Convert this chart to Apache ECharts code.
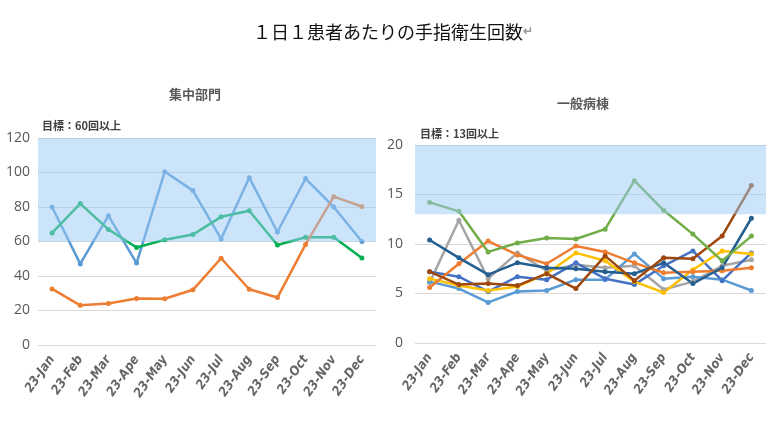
<!DOCTYPE html>
<html>
<head>
<meta charset="utf-8">
<script src="https://cdn.jsdelivr.net/npm/echarts@6/dist/echarts.min.js"></script>
<style>html,body{margin:0;padding:0;background:#fff;}#c{width:784px;height:421px;}</style>
</head>
<body>
<div id="c"></div>
<script>
var categories = ['23-Jan','23-Feb','23-Mar','23-Ape','23-May','23-Jun','23-Jul','23-Aug','23-Sep','23-Oct','23-Nov','23-Dec'];

// 集中部門
var icuBlue   = [80, 47, 75, 47.5, 100.5, 89.5, 61.5, 97, 65.5, 96.5, 80, 60];
var icuGreen  = [65, 82, 67, 56.5, 61, 64, 74.3, 77.8, 58, 62.5, 62.5, 50.5];
var icuOrange = [32.5, 23, 24, 27, 26.8, 32, 50.3, 32.3, 27.5, 58.3, 86, 80.3];
var icuTarget = [60, 120];
var icuTicks = {min: 0, max: 120, interval: 20};

// 一般病棟
var genGreen     = [14.2, 13.3, 9.2, 10.1, 10.6, 10.5, 11.5, 16.4, 13.4, 11.0, 8.3, 10.8];
var genGrey      = [6.1, 12.4, 6.5, 9.1, 7.3, 7.9, 7.6, 7.8, 5.4, 6.2, 7.8, 8.4];
var genOrange    = [5.6, 8.0, 10.3, 8.9, 8.0, 9.8, 9.2, 8.1, 7.1, 7.2, 7.3, 7.6];
var genDarkBlue  = [10.4, 8.6, 6.9, 8.1, 7.6, 7.5, 7.2, 7.0, 8.1, 6.0, 7.6, 12.6];
var genBlue      = [7.2, 6.7, 5.2, 6.7, 6.4, 8.1, 6.5, 5.9, 7.8, 9.3, 6.3, 9.1];
var genLightBlue = [6.2, 5.5, 4.1, 5.2, 5.3, 6.4, 6.4, 9.0, 6.5, 6.7, 6.4, 5.3];
var genYellow    = [6.5, 5.8, 5.3, 5.7, 7.0, 9.1, 8.3, 6.2, 5.1, 7.4, 9.3, 9.0];
var genBrown     = [7.2, 5.9, 6.0, 5.8, 7.0, 5.5, 8.8, 6.3, 8.6, 8.5, 10.8, 15.9];
var genTarget = [13, 20];
var genTicks = {min: 0, max: 20, interval: 5};

var bandColor = 'rgba(153,201,245,0.5)';

function lineSeries(data, color, idx, extra) {
  var s = {
    type: 'line', data: data, xAxisIndex: idx, yAxisIndex: idx,
    symbol: 'circle', symbolSize: 5, z: 2,
    lineStyle: {color: color, width: 2.5},
    itemStyle: {color: color},
    animation: false
  };
  if (extra) for (var k in extra) s[k] = extra[k];
  return s;
}
function band(range) {
  return {markArea: {z: 10, silent: true, itemStyle: {color: bandColor}, data: [[{yAxis: range[0]}, {yAxis: range[1]}]]}};
}

function xAxis(idx) {
  return {
    type: 'category', gridIndex: idx, data: categories, boundaryGap: true,
    axisLine: {show: false}, axisTick: {show: false},
    axisLabel: {rotate: 55, interval: 0, fontSize: 13, fontStyle: 'italic', fontWeight: 'bold', color: '#666666', margin: 12, fontFamily: 'DejaVu Sans Condensed'}
  };
}
function yAxis(idx, t, margin) {
  return {
    type: 'value', gridIndex: idx, min: t.min, max: t.max, interval: t.interval,
    axisLine: {show: false}, axisTick: {show: false},
    splitLine: {lineStyle: {color: '#D9D9D9', width: 1}},
    axisLabel: {fontSize: 14, color: '#595959', margin: margin, fontFamily: 'Open Sans, sans-serif'}
  };
}

var chart = echarts.init(document.getElementById('c'));
chart.setOption({
  backgroundColor: '#ffffff',
  animation: false,
  title: [
    {text: '{a|１日１患者あたりの手指衛生回数}{b|↵}', left: 388, top: 18, textAlign: 'center',
     textStyle: {rich: {a: {fontSize: 18, color: '#111', fontFamily: 'Noto Sans CJK JP', fontWeight: 'normal'}, b: {fontSize: 12, color: '#999'}}}},
    {text: '集中部門', left: 190, top: 83, textAlign: 'center', textStyle: {fontSize: 13, fontWeight: 'bold', color: '#595959', fontFamily: 'Noto Sans CJK JP'}},
    {text: '一般病棟', left: 578, top: 92, textAlign: 'center', textStyle: {fontSize: 13, fontWeight: 'bold', color: '#595959', fontFamily: 'Noto Sans CJK JP'}},
    {text: '目標：60回以上', left: 37, top: 115, textStyle: {fontSize: 11, fontWeight: 'bold', color: '#404040', fontFamily: 'Noto Sans CJK JP'}},
    {text: '目標：13回以上', left: 415, top: 123, textStyle: {fontSize: 11, fontWeight: 'bold', color: '#404040', fontFamily: 'Noto Sans CJK JP'}}
  ],
  grid: [
    {left: 38, width: 338, top: 138, height: 207},
    {left: 415, width: 351, top: 145, height: 198}
  ],
  xAxis: [xAxis(0), xAxis(1)],
  yAxis: [yAxis(0, icuTicks, 8), yAxis(1, genTicks, 12)],
  series: [
    lineSeries(icuBlue, '#5B9BD5', 0, band(icuTarget)),
    lineSeries(icuGreen, '#00B050', 0),
    lineSeries(icuOrange, '#ED7D31', 0),
    lineSeries(genGrey, '#A5A5A5', 1, band(genTarget)),
    lineSeries(genLightBlue, '#5B9BD5', 1),
    lineSeries(genBlue, '#4472C4', 1),
    lineSeries(genYellow, '#FFC000', 1),
    lineSeries(genOrange, '#ED7D31', 1),
    lineSeries(genDarkBlue, '#255E91', 1),
    lineSeries(genBrown, '#9E480E', 1),
    lineSeries(genGreen, '#70AD47', 1)
  ]
});
</script>
</body>
</html>
